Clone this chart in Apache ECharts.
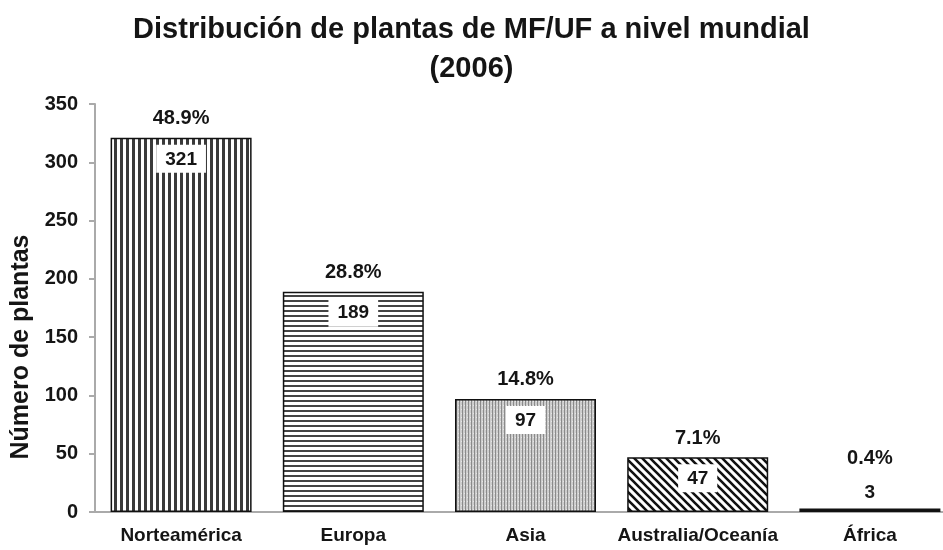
<!DOCTYPE html>
<html>
<head>
<meta charset="utf-8">
<script src="https://cdn.jsdelivr.net/npm/echarts@6/dist/echarts.min.js"></script>
<style>
  html, body { margin: 0; padding: 0; background: #fff; }
  #chart { width: 943px; height: 550px; }
</style>
</head>
<body>
<div id="chart"></div>
<script>
var regiones = ['Norteamérica', 'Europa', 'Asia', 'Australia/Oceanía', 'África'];
var plantas = [321, 189, 97, 47, 3];
var porcentajes = ['48.9%', '28.8%', '14.8%', '7.1%', '0.4%'];
var ticksY = [0, 50, 100, 150, 200, 250, 300, 350];

var fuente = '"Liberation Sans", Arial, sans-serif';
var tinta = '#151515';

// tramas de relleno de cada barra
function trama(w, h, dibujar) {
  var c = document.createElement('canvas');
  c.width = w;
  c.height = h;
  dibujar(c.getContext('2d'));
  return { image: c, repeat: 'repeat' };
}

var tramas = [
  trama(6, 6, function (g) {          // lineas verticales
    g.fillStyle = '#fff'; g.fillRect(0, 0, 6, 6);
    g.fillStyle = '#3a3a3a'; g.fillRect(0, 0, 3, 6);
  }),
  trama(5, 5, function (g) {          // lineas horizontales
    g.fillStyle = '#fff'; g.fillRect(0, 0, 5, 5);
    g.fillStyle = '#444'; g.fillRect(0, 0, 5, 2);
  }),
  trama(3, 4, function (g) {          // gris punteado
    g.fillStyle = '#cdcdcd'; g.fillRect(0, 0, 3, 4);
    g.fillStyle = '#8a8a8a'; g.fillRect(0, 0, 1, 4);
    g.fillStyle = '#e6e6e6'; g.fillRect(2, 1, 1, 1);
  }),
  trama(8, 8, function (g) {          // diagonales
    g.fillStyle = '#fff'; g.fillRect(0, 0, 8, 8);
    g.strokeStyle = '#111'; g.lineWidth = 2.6;
    g.beginPath();
    g.moveTo(-2, -2); g.lineTo(10, 10);
    g.moveTo(-6, 2); g.lineTo(2, 10);
    g.moveTo(6, -2); g.lineTo(14, 6);
    g.stroke();
  }),
  '#111'
];

var chart = echarts.init(document.getElementById('chart'));

chart.setOption({
  animation: false,
  title: [
    {
      text: 'Distribución de plantas de MF/UF a nivel mundial',
      left: 'center',
      top: 10,
      textStyle: { fontFamily: fuente, fontSize: 29, fontWeight: 'bold', color: tinta }
    },
    {
      text: '(2006)',
      left: 'center',
      top: 49,
      textStyle: { fontFamily: fuente, fontSize: 29, fontWeight: 'bold', color: tinta }
    }
  ],
  grid: {
    left: 95,
    width: 861,
    top: 104,
    bottom: 38,
    outerBoundsMode: 'none',
    containLabel: false
  },
  xAxis: {
    type: 'category',
    data: regiones,
    axisLine: { lineStyle: { color: '#aaa', width: 2 } },
    axisTick: { show: false },
    axisLabel: {
      interval: 0,
      margin: 14,
      fontFamily: fuente,
      fontSize: 19,
      fontWeight: 'bold',
      color: tinta
    }
  },
  yAxis: {
    type: 'value',
    min: ticksY[0],
    max: ticksY[ticksY.length - 1],
    interval: 50,
    name: 'Número de plantas',
    nameLocation: 'middle',
    nameGap: 56,
    nameTextStyle: {
      fontFamily: fuente,
      fontSize: 25,
      fontWeight: 'bold',
      color: tinta,
      padding: [0, 78, 0, 0]
    },
    axisLine: { show: true, lineStyle: { color: '#aaa', width: 2 } },
    axisTick: { show: true, length: 6, lineStyle: { color: '#aaa', width: 2 } },
    splitLine: { show: false },
    axisLabel: {
      margin: 17,
      fontFamily: fuente,
      fontSize: 20,
      fontWeight: 'bold',
      color: tinta
    }
  },
  series: [
    {
      type: 'bar',
      barWidth: 141,
      data: plantas.map(function (v, i) {
        var item = {
          value: v,
          itemStyle: { color: tramas[i] }
        };
        if (i === plantas.length - 1) {
          item.label = { position: 'top', distance: 2 };
        }
        return item;
      }),
      itemStyle: { borderColor: '#111', borderWidth: 1.5 },
      label: {
        show: true,
        position: 'insideTop',
        distance: 7,
        backgroundColor: '#fff',
        padding: [5, 9, 4, 9],
        fontFamily: fuente,
        fontSize: 19,
        fontWeight: 'bold',
        color: tinta
      }
    },
    {
      type: 'bar',
      barWidth: 141,
      barGap: '-100%',
      silent: true,
      data: plantas.map(function (v, i) {
        var item = { value: v };
        if (i === plantas.length - 1) {
          item.label = { distance: 40 };
        }
        return item;
      }),
      itemStyle: { color: 'transparent' },
      label: {
        show: true,
        position: 'top',
        distance: 9,
        formatter: function (p) { return porcentajes[p.dataIndex]; },
        fontFamily: fuente,
        fontSize: 20,
        fontWeight: 'bold',
        color: tinta
      }
    }
  ]
});
</script>
</body>
</html>
